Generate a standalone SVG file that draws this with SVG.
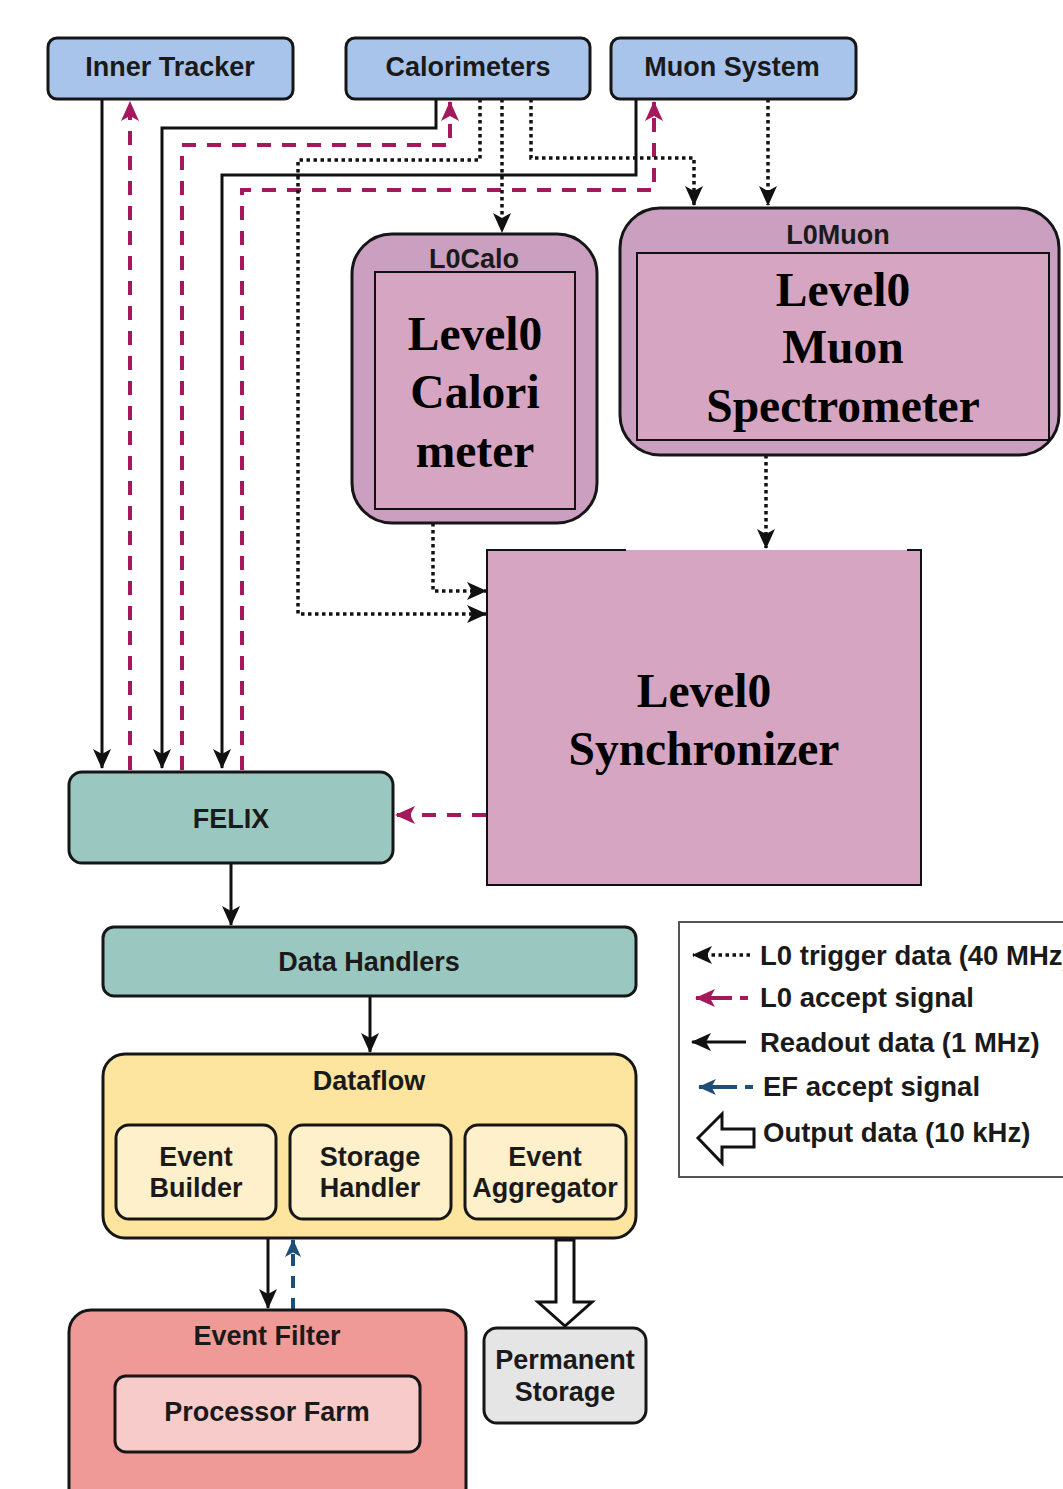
<svg xmlns="http://www.w3.org/2000/svg" width="1063" height="1489" viewBox="0 0 1063 1489">
<style>
.box{stroke:#161616;stroke-width:3}
.blue{fill:#a9c4eb}
.teal{fill:#9ac7c0}
.l0o{fill:#cb9fc0}
.l0i{fill:#d6a5c1;stroke:#111;stroke-width:2}
.t{font-family:"Liberation Sans",Arial,sans-serif;font-weight:bold;font-size:27px;fill:#1a1a1a;text-anchor:middle}
.s{font-family:"Liberation Serif","Times New Roman",serif;font-weight:bold;font-size:47.5px;fill:#000;text-anchor:middle}
.lg{font-family:"Liberation Sans",Arial,sans-serif;font-weight:bold;font-size:27.5px;fill:#1a1a1a}
.solid{fill:none;stroke:#111;stroke-width:3}
.pink{fill:none;stroke:#a3195b;stroke-width:4;stroke-dasharray:14 11}
.dot{fill:none;stroke:#111;stroke-width:3.5;stroke-dasharray:3.5 3.5}
.bluedash{fill:none;stroke:#1f4e79;stroke-width:4;stroke-dasharray:12 10}
</style>
<defs>
<marker id="ab" viewBox="0 0 20 18" markerWidth="20" markerHeight="18" refX="19" refY="9" orient="auto" markerUnits="userSpaceOnUse"><path d="M0,0 L20,9 L0,18 L5,9 Z" fill="#111"/></marker>
<marker id="ap" viewBox="0 0 20 18" markerWidth="20" markerHeight="18" refX="19" refY="9" orient="auto" markerUnits="userSpaceOnUse"><path d="M0,0 L20,9 L0,18 L5,9 Z" fill="#a3195b"/></marker>
<marker id="abl" viewBox="0 0 20 18" markerWidth="18" markerHeight="16" refX="19" refY="9" orient="auto" markerUnits="userSpaceOnUse"><path d="M0,0 L20,9 L0,18 L5,9 Z" fill="#1f4e79"/></marker>
</defs>
<rect width="1063" height="1489" fill="#fff"/>

<g id="connectors">
<path class="solid" d="M102,99 V768" marker-end="url(#ab)"/>
<path class="solid" d="M436,99 V128 H162 V768" marker-end="url(#ab)"/>
<path class="solid" d="M636,99 V175 H222 V768" marker-end="url(#ab)"/>
<path class="solid" d="M231,863 V925" marker-end="url(#ab)"/>
<path class="solid" d="M370,996 V1052" marker-end="url(#ab)"/>
<path class="solid" d="M268,1238 V1308" marker-end="url(#ab)"/>
<path class="pink" d="M130,770 V102" marker-end="url(#ap)"/>
<path class="pink" d="M182,770 V145 H450 V102" marker-end="url(#ap)"/>
<path class="pink" d="M242,770 V190 H654 V102" marker-end="url(#ap)"/>
<path class="pink" d="M486,815 H396" marker-end="url(#ap)"/>
<path class="dot" d="M480,99 V160 H298 V614 H486" marker-end="url(#ab)"/>
<path class="dot" d="M502,99 V232" marker-end="url(#ab)"/>
<path class="dot" d="M531,99 V158 H694 V205" marker-end="url(#ab)"/>
<path class="dot" d="M768,99 V205" marker-end="url(#ab)"/>
<path class="dot" d="M433,523 V591 H486" marker-end="url(#ab)"/>
<path class="dot" d="M766,455 V548" marker-end="url(#ab)"/>
<path class="bluedash" d="M293,1310 V1240" marker-end="url(#abl)"/>
<polygon points="556,1240 574,1240 574,1302 592,1302 565,1326 538,1302 556,1302" fill="#fff" stroke="#111" stroke-width="3" stroke-linejoin="miter"/>
</g>

<g id="inner-tracker"><rect class="box blue" x="48" y="38" width="245" height="61" rx="9"/><text class="t" x="170" y="76">Inner Tracker</text></g>
<g id="calorimeters"><rect class="box blue" x="346" y="38" width="244" height="61" rx="9"/><text class="t" x="468" y="76">Calorimeters</text></g>
<g id="muon-system"><rect class="box blue" x="611" y="38" width="245" height="61" rx="9"/><text class="t" x="732" y="76">Muon System</text></g>

<g id="l0calo">
<rect class="box l0o" x="352" y="234" width="245" height="289" rx="40"/>
<text class="t" x="474" y="268">L0Calo</text>
<rect class="l0i" x="375" y="272" width="200" height="237"/>
<text class="s" x="475" y="350">Level0</text>
<text class="s" x="475" y="408">Calori</text>
<text class="s" x="475" y="467">meter</text>
</g>

<g id="l0muon">
<rect class="box l0o" x="620" y="208" width="439" height="247" rx="40"/>
<text class="t" x="838" y="244">L0Muon</text>
<rect class="l0i" x="637" y="253" width="412" height="187"/>
<text class="s" x="843" y="306">Level0</text>
<text class="s" x="843" y="363">Muon</text>
<text class="s" x="843" y="422">Spectrometer</text>
</g>

<g id="synchronizer">
<rect x="487" y="550" width="434" height="335" fill="#d6a5c1"/>
<path d="M626,550 H487 V885 H921 V550 H907" fill="none" stroke="#111" stroke-width="2"/>
<text class="s" x="704" y="707">Level0</text>
<text class="s" x="704" y="765">Synchronizer</text>
</g>

<g id="felix"><rect class="box teal" x="69" y="772" width="324" height="91" rx="13"/><text class="t" x="231" y="828">FELIX</text></g>
<g id="data-handlers"><rect class="box teal" x="103" y="927" width="533" height="69" rx="11"/><text class="t" x="369" y="971">Data Handlers</text></g>

<g id="dataflow">
<rect class="box" x="103" y="1054" width="533" height="184" rx="22" fill="#fde49f"/>
<text class="t" x="369" y="1090">Dataflow</text>
</g>
<g id="event-builder"><rect class="box" x="116" y="1125" width="160" height="94" rx="13" fill="#fef0cb"/><text class="t" x="196" y="1166">Event</text><text class="t" x="196" y="1197">Builder</text></g>
<g id="storage-handler"><rect class="box" x="290" y="1125" width="161" height="94" rx="13" fill="#fef0cb"/><text class="t" x="370" y="1166">Storage</text><text class="t" x="370" y="1197">Handler</text></g>
<g id="event-aggregator"><rect class="box" x="465" y="1125" width="161" height="94" rx="13" fill="#fef0cb"/><text class="t" x="545" y="1166">Event</text><text class="t" x="545" y="1197">Aggregator</text></g>

<g id="event-filter">
<rect class="box" x="69" y="1310" width="397" height="200" rx="22" fill="#f09a98"/>
<text class="t" x="267" y="1345">Event Filter</text>
</g>
<g id="processor-farm"><rect class="box" x="115" y="1376" width="305" height="76" rx="11" fill="#f8cbcb"/><text class="t" x="267" y="1421">Processor Farm</text></g>
<g id="permanent-storage"><rect class="box" x="484" y="1328" width="162" height="95" rx="13" fill="#e5e5e5"/><text class="t" x="565" y="1369">Permanent</text><text class="t" x="565" y="1401">Storage</text></g>

<g id="legend">
<rect x="679" y="922" width="400" height="255" fill="#fff" stroke="#555" stroke-width="2"/>
<path class="dot" d="M750,955 H693" marker-end="url(#ab)"/>
<text class="lg" x="760" y="965">L0 trigger data (40 MHz)</text>
<path class="pink" d="M748,998 H740 M732,998 H696" style="stroke-dasharray:none" marker-end="url(#ap)"/>
<text class="lg" x="760" y="1007">L0 accept signal</text>
<path class="solid" d="M746,1042 H692" marker-end="url(#ab)"/>
<text class="lg" x="760" y="1052">Readout data (1 MHz)</text>
<path class="bluedash" d="M753,1087 H745 M737,1087 H699" style="stroke-dasharray:none" marker-end="url(#abl)"/>
<text class="lg" x="763" y="1096">EF accept signal</text>
<polygon points="698,1138 722,1114 722,1129 754,1129 754,1147 722,1147 722,1163" fill="#fff" stroke="#111" stroke-width="3"/>
<text class="lg" x="763" y="1142">Output data (10 kHz)</text>
</g>
</svg>
